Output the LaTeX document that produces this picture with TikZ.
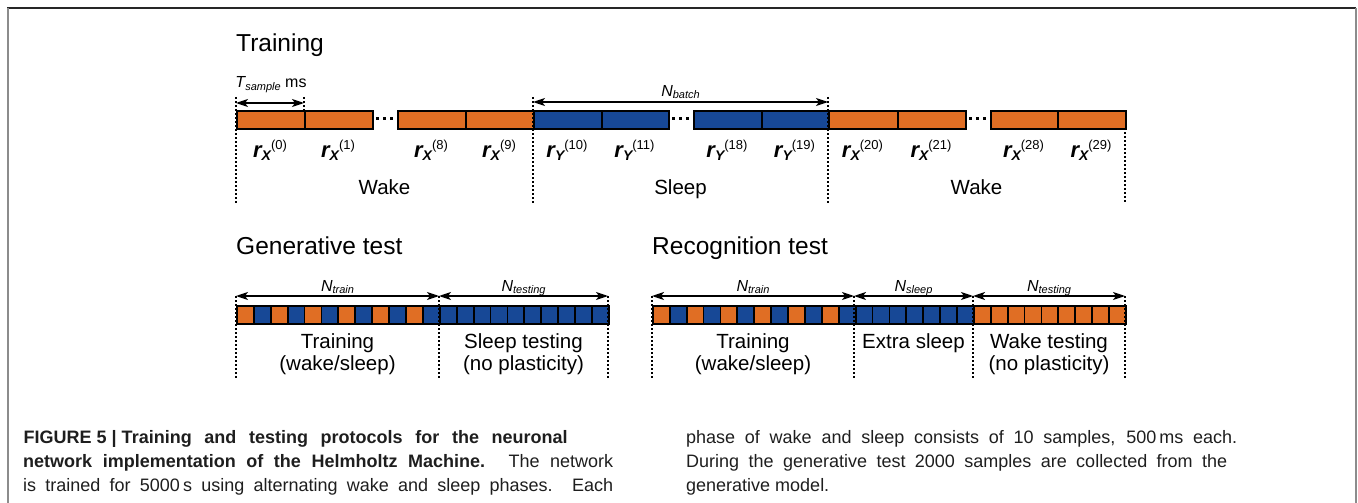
\documentclass[tikz,border=0pt]{standalone}
\usepackage{fontspec}
\setmainfont{Liberation Sans}
\usetikzlibrary{arrows.meta}
\definecolor{cO}{RGB}{224,110,36}
\definecolor{cB}{RGB}{23,72,150}
\definecolor{captxt}{RGB}{30,30,30}
\newcommand\fs[1]{\fontsize{#1}{#1}\selectfont}
\newcommand\rlab[2]{{\fs{22}\bfseries\itshape r}\raisebox{-3pt}{\fs{14}\bfseries\itshape #1}\raisebox{8pt}{\fs{13}(#2)}}
\newcommand\Nlab[1]{{\fs{16}\itshape N}\raisebox{-2.5pt}{\fs{11}\itshape #1}}
\begin{document}
\begin{tikzpicture}[x=1pt,y=-1pt,
  cellbox/.style={draw=black,line width=1.8pt,inner sep=0pt,anchor=north west,minimum height=18pt},
  dimarrow/.style={{Stealth[length=12pt,width=8pt,inset=3pt]}-{Stealth[length=12pt,width=8pt,inset=3pt]},line width=1.4pt},
  guideline/.style={line width=1.4pt,dash pattern=on 1.5pt off 2.5pt},
  titletext/.style={anchor=base west,inner sep=0pt,font=\fs{24.5}},
  labtext/.style={anchor=base,inner sep=0pt,font=\fs{20.5}},
  smalltext/.style={anchor=base,inner sep=0pt},
  captext/.style={anchor=base west,inner sep=0pt,font=\fs{18},text=captxt},
  frameedge/.style={line width=2pt,color=black!45},
]
\useasboundingbox (0,0) rectangle (1358,503);
% frame
\draw[line width=1.4pt,color=black!85] (7,8) -- (1356,8);
\draw[frameedge] (7.5,8) -- (7.5,503);
\draw[frameedge] (1356,8) -- (1356,503);

% ---------- Training ----------
\node[titletext] (ttitle) at (236,52) {Training};
\foreach \xa/\xb/\c/\L/\n [count=\i] in {236/304/cO/X/0, 304/372/cO/X/1, 397/465/cO/X/8, 465/533/cO/X/9, 533/601/cB/Y/10, 601/668/cB/Y/11, 693/761/cB/Y/18, 761/828/cB/Y/19, 828/897/cO/X/20, 897/965/cO/X/21, 990/1057/cO/X/28, 1057/1125/cO/X/29}{
  \node[cellbox,fill=\c,minimum width={\xb-\xa}] (t\i) at (\xa,110) {};
  \node[smalltext] (tl\i) at ({(\xa+\xb)/2},157) {\rlab{\L}{\n}};
}
\foreach \cx in {384.5,680.5,977.5}{
  \foreach \dx in {-7,0,7}{
    \fill ({\cx+\dx-1.7},116.8) rectangle ({\cx+\dx+1.7},120.2);
  }
}
% guides
\coordinate (ga1) at (236,97);  \coordinate (gb1) at (236,203);
\coordinate (ga2) at (304,97);  \coordinate (gb2) at (304,110);
\coordinate (ga3) at (533,97);  \coordinate (gb3) at (533,203);
\coordinate (ga4) at (828,97);  \coordinate (gb4) at (828,203);
\coordinate (ga5) at (1125,128); \coordinate (gb5) at (1125,203);
\foreach \k in {1,...,5}{\draw[guideline] (ga\k) -- (gb\k);}
% dimension arrows
\coordinate (tsA) at (236,103); \coordinate (tsB) at (304,103);
\draw[dimarrow] (tsA) -- (tsB);
\node[smalltext] (tsl) at (271,88) {{\fs{16}\itshape T}\raisebox{-2.5pt}{\fs{11}\itshape sample}{\fs{16} ms}};
\coordinate (nbA) at (533,102); \coordinate (nbB) at (828,102);
\draw[dimarrow] (nbA) -- (nbB);
\node[smalltext] (nbl) at (680.5,96) {\Nlab{batch}};
% phase labels
\node[labtext] (w1) at (384.5,194) {Wake};
\node[labtext] (s1) at (680.5,194) {Sleep};
\node[labtext] (w2) at (976.5,194) {Wake};

% ---------- Generative test ----------
\node[titletext] (gtitle) at (236,254) {Generative test};
\foreach \c [count=\i from 0] in {cO,cB,cO,cB,cO,cB,cO,cB,cO,cB,cO,cB,cB,cB,cB,cB,cB,cB,cB,cB,cB,cB}{
  \node[cellbox,fill=\c,minimum width=16.909] (g\i) at ({236+\i*16.909},305) {};
}
\coordinate (gA) at (236,296); \coordinate (gB) at (439,296); \coordinate (gC) at (608,296);
\coordinate (gA2) at (236,379); \coordinate (gB2) at (439,379); \coordinate (gC2) at (608,379);
\draw[guideline] (gA) -- (gA2);
\draw[guideline] (gB) -- (gB2);
\draw[guideline] (gC) -- (gC2);
\draw[dimarrow] (gA) -- (gB);
\draw[dimarrow] (gB) -- (gC);
\node[smalltext] (gn1) at (337.5,291) {\Nlab{train}};
\node[smalltext] (gn2) at (523.5,291) {\Nlab{testing}};
\node[labtext] (gt1a) at (337.5,348) {Training};
\node[labtext] (gt1b) at (337.5,370) {(wake/sleep)};
\node[labtext] (gt2a) at (523.5,348) {Sleep testing};
\node[labtext] (gt2b) at (523.5,370) {(no plasticity)};

% ---------- Recognition test ----------
\node[titletext] (rtitle) at (652,254) {Recognition test};
\foreach \c [count=\i from 0] in {cO,cB,cO,cB,cO,cB,cO,cB,cO,cB,cO,cB,cB,cB,cB,cB,cB,cB,cB,cO,cO,cO,cO,cO,cO,cO,cO,cO}{
  \node[cellbox,fill=\c,minimum width=16.893] (r\i) at ({652+\i*16.893},305) {};
}
\coordinate (rA) at (652,296); \coordinate (rB) at (854,296); \coordinate (rC) at (973,296); \coordinate (rD) at (1125,296);
\coordinate (rA2) at (652,379); \coordinate (rB2) at (854,379); \coordinate (rC2) at (973,379); \coordinate (rD2) at (1125,379);
\draw[guideline] (rA) -- (rA2);
\draw[guideline] (rB) -- (rB2);
\draw[guideline] (rC) -- (rC2);
\draw[guideline] (rD) -- (rD2);
\draw[dimarrow] (rA) -- (rB);
\draw[dimarrow] (rB) -- (rC);
\draw[dimarrow] (rC) -- (rD);
\node[smalltext] (rn1) at (753,291) {\Nlab{train}};
\node[smalltext] (rn2) at (913.5,291) {\Nlab{sleep}};
\node[smalltext] (rn3) at (1049,291) {\Nlab{testing}};
\node[labtext] (rt1a) at (753,348) {Training};
\node[labtext] (rt1b) at (753,370) {(wake/sleep)};
\node[labtext] (rt2a) at (913.5,348) {Extra sleep};
\node[labtext] (rt3a) at (1049,348) {Wake testing};
\node[labtext] (rt3b) at (1049,370) {(no plasticity)};

% ---------- Caption ----------
\node[captext] (c1) at (23.5,443) {\makebox[544pt][s]{\bfseries \mbox{FIGURE 5 | Training} and testing protocols for the neuronal}};
\node[captext] (c2) at (23,467) {\makebox[590pt][s]{\bfseries network implementation of the Helmholtz Machine.\mdseries{} The network}};
\node[captext] (c3) at (23,491) {\makebox[590pt][s]{is trained for 5000\,s using alternating wake and sleep phases. Each}};
\node[captext] (c4) at (686,443) {\makebox[551pt][s]{phase of wake and sleep consists of 10 samples, 500\,ms each.}};
\node[captext] (c5) at (686,467) {\makebox[541pt][s]{During the generative test 2000 samples are collected from the}};
\node[captext] (c6) at (686,491) {generative model.};
\end{tikzpicture}
\end{document}
